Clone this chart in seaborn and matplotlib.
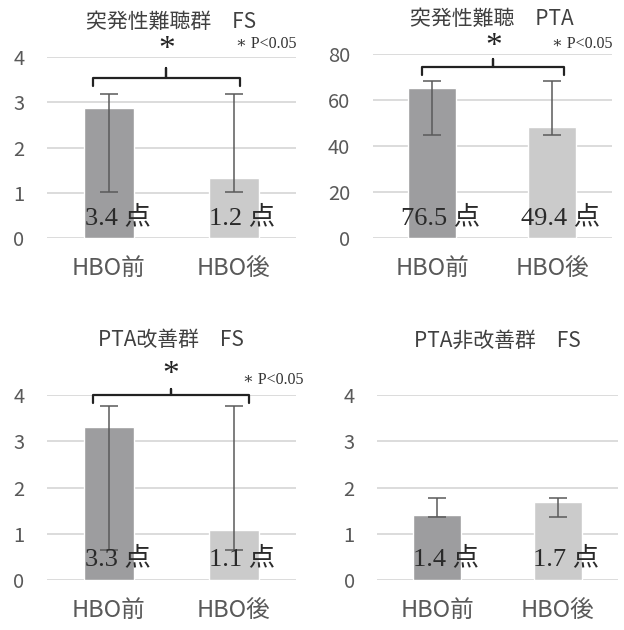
import matplotlib
matplotlib.use("Agg")
import matplotlib.pyplot as plt
import matplotlib.transforms as mtransforms
import seaborn as sns
import pandas as pd

# categories and values
categories = ["HBO前", "HBO後"]

titles = ["突発性難聴群\u3000FS", "突発性難聴\u3000PTA", "PTA改善群\u3000FS", "PTA非改善群\u3000FS"]

bar_means = [[2.87, 1.33], [65.2, 48.3], [3.31, 1.08], [1.41, 1.69]]
err_low = [[1.02, 1.02], [44.8, 44.8], [0.65, 0.65], [1.36, 1.36]]
err_high = [[3.18, 3.18], [68.3, 68.3], [3.76, 3.76], [1.77, 1.77]]
value_labels = [["3.4 点", "1.2 点"], ["76.5 点", "49.4 点"], ["3.3 点", "1.1 点"], ["1.4 点", "1.7 点"]]
y_max = [4, 80, 4, 4]
y_step = [1, 20, 1, 1]
significant = [True, True, True, False]

bar_colors = ["#9d9d9f", "#cbcbcb"]
grid_col = "#d9d9d9"
text_col = "#595959"

sns.set_style("white")
plt.rcParams["font.family"] = ["Noto Sans CJK JP", "DejaVu Sans"]

fig = plt.figure(figsize=(6.24, 6.30), dpi=100)
W, H = 624, 630
# axes boxes in pixels: left, top(of value max), right, bottom(of zero)
boxes = [(46.5, 57, 296, 238), (372.5, 54, 612, 238),
         (46.5, 395, 296, 580), (377, 395, 618, 580)]
title_pads = [21, 21, 35, 35]

# brace geometry (data coords)
braces = [
    dict(x0=-0.13, x1=1.05, xc=0.46, y=3.54, yend=3.36, ypk=3.76, yast=4.17, ynote=4.28, xnote=1.5),
    dict(x0=-0.09, x1=1.10, xc=0.51, y=74.3, yend=70.9, ypk=77.8, yast=83.0, ynote=84.5, xnote=1.5),
    dict(x0=-0.13, x1=1.12, xc=0.50, y=4.00, yend=3.83, ypk=4.13, yast=4.43, ynote=4.32, xnote=1.56),
]

for i in range(4):
    l, t, r, b = boxes[i]
    ax = fig.add_axes([l / W, 1 - b / H, (r - l) / W, (b - t) / H])
    df = pd.DataFrame({"group": categories, "value": bar_means[i]})
    sns.barplot(data=df, x="group", y="value", hue="group", palette=bar_colors,
                legend=False, width=0.4, ax=ax, zorder=2)
    lo = [m - e for m, e in zip(bar_means[i], err_low[i])]
    hi = [e - m for m, e in zip(bar_means[i], err_high[i])]
    ax.errorbar([0, 1], bar_means[i], yerr=[lo, hi], fmt="none", ecolor="#5a5a5a",
                elinewidth=1.1, capsize=6.5, capthick=1.1, zorder=3)
    ax.set_xlim(-0.5, 1.5)
    ax.set_ylim(0, y_max[i])
    ax.set_yticks(range(0, y_max[i] + 1, y_step[i]))
    ax.yaxis.grid(True, color=grid_col, linewidth=1.3, zorder=0)
    ax.set_axisbelow(True)
    for s in ax.spines.values():
        s.set_visible(False)
    ax.tick_params(axis="y", length=0, pad=16, labelsize=14.5, labelcolor=text_col)
    ax.tick_params(axis="x", length=0, pad=14, labelsize=17, labelcolor=text_col)
    ax.set_xlabel("")
    ax.set_ylabel("")
    ax.set_title(titles[i], fontsize=15, color="#404040", pad=title_pads[i])

    trans = mtransforms.blended_transform_factory(ax.transData, ax.transAxes)
    for j, lab in enumerate(value_labels[i]):
        ax.text(j + 0.07, 0.115, lab, transform=trans, ha="center", va="center",
                fontsize=19, color="#2a2a2a", zorder=5,
                family=["Liberation Serif", "Noto Sans CJK JP"])

    if significant[i]:
        bz = braces[i]
        ax.plot([bz["x0"], bz["x0"], bz["xc"], bz["xc"], bz["xc"], bz["x1"], bz["x1"]],
                [bz["yend"], bz["y"], bz["y"], bz["ypk"], bz["y"], bz["y"], bz["yend"]],
                color="#222222", linewidth=1.6, clip_on=False, zorder=4,
                solid_joinstyle="round")
        ax.text(bz["xc"], bz["yast"], "*", ha="center", va="center", fontsize=24,
                color="#222222", family=["Liberation Serif"], clip_on=False)
        ax.text(bz["xnote"], bz["ynote"], "\u2217 P<0.05", ha="right", va="center",
                fontsize=11.5, color="#333333",
                family=["Liberation Serif", "DejaVu Serif"], clip_on=False)

fig.savefig("out.png", dpi=100, facecolor="white")
